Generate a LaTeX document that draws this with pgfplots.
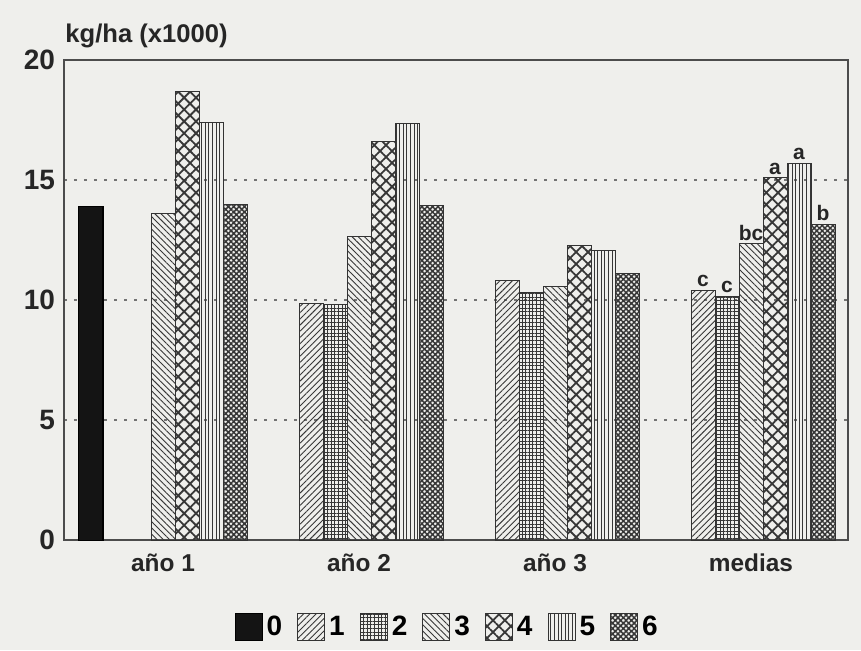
\documentclass[border=0pt]{standalone}
\usepackage{fontspec}
\setmainfont{Liberation Sans}
\usepackage{pgfplots}
\pgfplotsset{compat=1.18}
\usetikzlibrary{patterns.meta,backgrounds,calc}
\definecolor{bg}{RGB}{239,239,236}
\definecolor{pc}{RGB}{55,55,55}
\newcommand{\xfont}{\fontsize{12.2}{14}\selectfont\bfseries}
\newcommand{\yfont}{\fontsize{14}{16}\selectfont\bfseries}
\newcommand{\lfont}{\fontsize{10.5}{12}\selectfont\bfseries}
\pgfplotsset{
  mybar/.style={ybar, bar width=24, bar shift=0pt, draw=black!80, line width=0.5pt,
    point meta=explicit symbolic, nodes near coords,
    every node near coord/.append style={anchor=south, inner sep=1.5pt, font=\lfont, text=black!85}},
}
\begin{document}
\begin{tikzpicture}[x=1pt,y=1pt]
\begin{axis}[
  name=ax,
  scale only axis, width=392pt, height=240pt,
  xmin=64, xmax=848, ymin=0, ymax=20,
  xtick={163,359,555,751}, xticklabels={año 1, año 2, año 3, medias},
  ytick={0,5,10,15,20},
  major tick length=0pt,
  ymajorgrids, grid style={dash pattern=on 1.5pt off 3.5pt, black!55, line width=0.6pt},
  axis line style={black!70, line width=0.7pt},
  xticklabel style={font=\xfont, text=black!85, yshift=-3.5pt},
  yticklabel style={font=\yfont, text=black!85, xshift=-1pt},
  /pgf/number format/assume math mode=true,
  legend columns=7,
  legend style={at={(0.49,-0.181)}, anchor=center, draw=none, fill=none, font=\yfont,
    /tikz/every odd column/.append style={column sep=0pt},
    /tikz/every even column/.append style={column sep=5.5pt}},
  legend image code/.code={\draw[#1] (0pt,-6.75pt) rectangle (13.5pt,6.75pt);},
  clip=false,
]
\addplot[mybar, fill=black!92, draw=black] coordinates {(91,13.9)[]};
\addlegendentry{0}
\addplot[mybar, pattern={Lines[angle=45,distance=2.2pt,line width=0.45pt]}, pattern color=pc]
  coordinates {(311,9.85)[] (507,10.8)[] (703,10.39)[c]};
\addlegendentry{1}
\addplot[mybar, pattern={Hatch[angle=0,distance=1.8pt,line width=0.45pt]}, pattern color=pc]
  coordinates {(335,9.8)[] (531,10.3)[] (727,10.14)[c]};
\addlegendentry{2}
\addplot[mybar, pattern={Lines[angle=-45,distance=2.2pt,line width=0.45pt]}, pattern color=pc]
  coordinates {(163,13.6)[] (359,12.65)[] (555,10.55)[] (751,12.34)[bc]};
\addlegendentry{3}
\addplot[mybar, pattern={Hatch[angle=45,distance=4.2pt,line width=0.9pt]}, pattern color=pc]
  coordinates {(187,18.7)[] (383,16.6)[] (579,12.27)[] (775,15.09)[a]};
\addlegendentry{4}
\addplot[mybar, pattern={Lines[angle=90,distance=1.8pt,line width=0.4pt]}, pattern color=pc]
  coordinates {(211,17.4)[] (407,17.35)[] (603,12.06)[] (799,15.69)[a]};
\addlegendentry{5}
\addplot[mybar, pattern={Hatch[angle=45,distance=1.9pt,line width=0.75pt]}, pattern color=pc]
  coordinates {(235,14.0)[] (431,13.95)[] (627,11.1)[] (823,13.14)[b]};
\addlegendentry{6}
\node[anchor=base west, font=\fontsize{12.8}{15}\selectfont\bfseries, text=black!85, inner sep=0pt, xshift=0.5pt] at ([yshift=9pt]rel axis cs:0,1) {kg/ha (x1000)};
\end{axis}
\begin{scope}[on background layer]
\fill[bg] ($(ax.south west)+(-32,-55)$) rectangle ++(430.5,325);
\end{scope}
\end{tikzpicture}
\end{document}
